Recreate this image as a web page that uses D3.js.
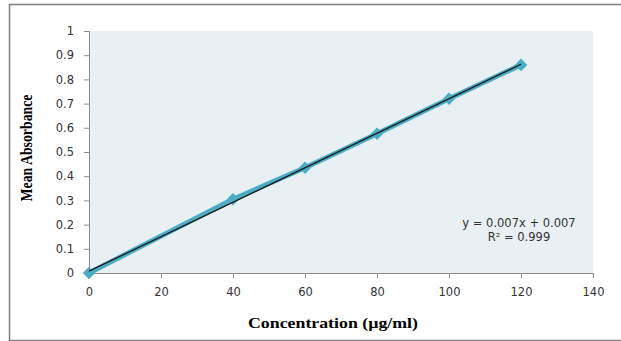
<!DOCTYPE html>
<html>
<head>
<meta charset="utf-8">
<script src="https://cdn.jsdelivr.net/npm/d3@7"></script>
<style>
  body { margin: 0; background: #fff; }
  svg { display: block; }
</style>
</head>
<body>
<div id="chart"></div>
<script>
// data
const concentration = [0, 40, 60, 80, 100, 120];
const absorbance = [0, 0.305, 0.435, 0.575, 0.72, 0.86];
const xTicks = [0, 20, 40, 60, 80, 100, 120, 140];
const yTicks = [0, 0.1, 0.2, 0.3, 0.4, 0.5, 0.6, 0.7, 0.8, 0.9, 1];
const equationLines = ["y = 0.007x + 0.007", "R² = 0.999"];

const width = 621, height = 341;
const margin = { top: 31, right: 28, bottom: 68, left: 89 };
const innerW = width - margin.left - margin.right;
const innerH = height - margin.top - margin.bottom;

const svg = d3.select("#chart").append("svg")
  .attr("width", width)
  .attr("height", height);

// outer frame
svg.append("path")
  .attr("d", `M${width},4.5 H9.5 V340.5 H${width}`)
  .attr("fill", "none")
  .attr("stroke", "#7f7f7f")
  .attr("stroke-width", 1.5);

const g = svg.append("g").attr("transform", `translate(${margin.left},${margin.top})`);

const x = d3.scaleLinear().domain([0, 140]).range([0, innerW]);
const y = d3.scaleLinear().domain([0, 1]).range([innerH, 0]);

g.append("rect")
  .attr("width", innerW)
  .attr("height", innerH)
  .attr("fill", "#e9f0f4");

const tickFont = "'DejaVu Sans', Verdana, sans-serif";

const xAxis = g.append("g")
  .attr("transform", `translate(0,${innerH})`)
  .call(d3.axisBottom(x).tickValues(xTicks).tickSize(5).tickPadding(10).tickFormat(d3.format("d")));

const yAxis = g.append("g")
  .call(d3.axisLeft(y).tickValues(yTicks).tickSize(5).tickPadding(10).tickFormat(d => d === 0 || d === 1 ? d : d3.format(".1f")(d)));

[xAxis, yAxis].forEach(ax => {
  ax.selectAll(".domain, line").attr("stroke", "#8c8c8c");
  ax.selectAll("text")
    .attr("font-family", tickFont)
    .attr("font-size", 11.5)
    .attr("fill", "#333");
});

// data series: thick aqua line with diamond markers
const pts = concentration.map((c, i) => ({ x: c, y: absorbance[i] }));

g.append("path")
  .datum(pts)
  .attr("fill", "none")
  .attr("stroke", "#4bacc6")
  .attr("stroke-width", 5)
  .attr("stroke-linejoin", "round")
  .attr("d", d3.line().x(d => x(d.x)).y(d => y(d.y)));

g.selectAll(".marker")
  .data(pts)
  .join("path")
  .attr("class", "marker")
  .attr("transform", d => `translate(${x(d.x)},${y(d.y)})`)
  .attr("d", d3.symbol(d3.symbolDiamond2, 100))
  .attr("fill", "#4bacc6");

// linear trendline from least squares
const mx = d3.mean(concentration), my = d3.mean(absorbance);
const slope = d3.sum(pts, d => (d.x - mx) * (d.y - my)) / d3.sum(pts, d => (d.x - mx) ** 2);
const intercept = my - slope * mx;
const xEnds = d3.extent(concentration);

g.append("line")
  .attr("x1", x(xEnds[0])).attr("y1", y(intercept + slope * xEnds[0]))
  .attr("x2", x(xEnds[1])).attr("y2", y(intercept + slope * xEnds[1]))
  .attr("stroke", "#1a1a1a")
  .attr("stroke-width", 1.3);

// equation label
svg.append("g")
  .selectAll("text")
  .data(equationLines)
  .join("text")
  .attr("x", 519)
  .attr("y", (d, i) => 227 + i * 14)
  .attr("text-anchor", "middle")
  .attr("font-family", tickFont)
  .attr("font-size", 11.5)
  .attr("fill", "#333")
  .text(d => d);

// axis titles
svg.append("text")
  .attr("x", 333)
  .attr("y", 328)
  .attr("text-anchor", "middle")
  .attr("font-family", "'Liberation Serif', 'Times New Roman', serif")
  .attr("font-weight", "bold")
  .attr("font-size", 15)
  .attr("textLength", 170)
  .attr("lengthAdjust", "spacingAndGlyphs")
  .text("Concentration (µg/ml)");

svg.append("text")
  .attr("transform", "translate(32,148) rotate(-90)")
  .attr("text-anchor", "middle")
  .attr("font-family", "'Liberation Serif', 'Times New Roman', serif")
  .attr("font-weight", "bold")
  .attr("font-size", 17)
  .attr("textLength", 107)
  .attr("lengthAdjust", "spacingAndGlyphs")
  .text("Mean Absorbance");
</script>
</body>
</html>
